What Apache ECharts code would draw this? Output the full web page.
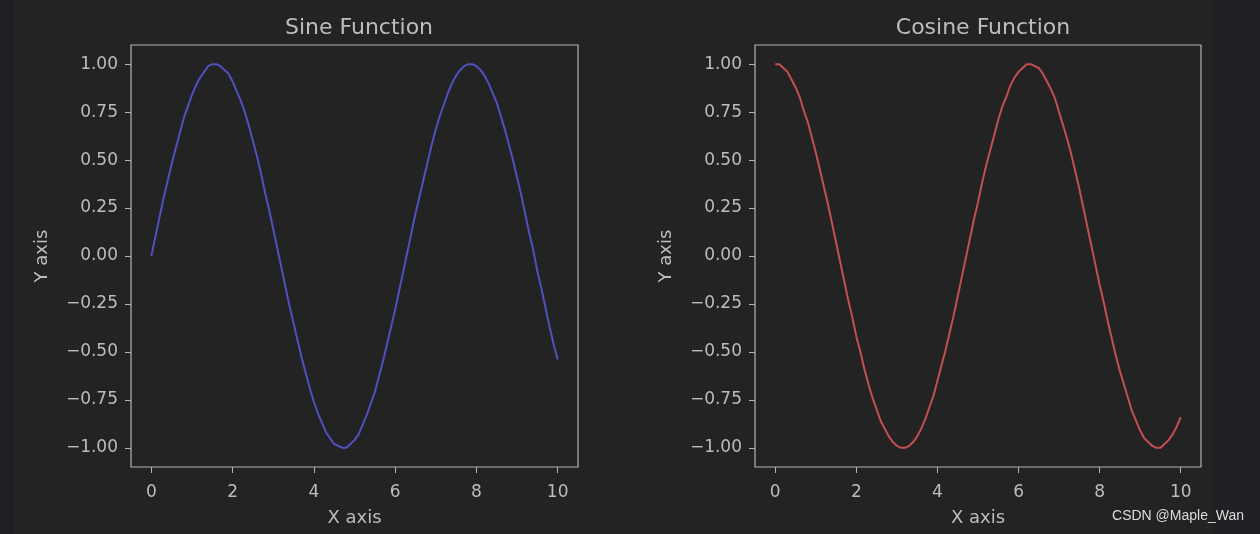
<!DOCTYPE html>
<html>
<head>
<meta charset="utf-8">
<script src="https://cdn.jsdelivr.net/npm/echarts@6/dist/echarts.min.js"></script>
<style>
html,body{margin:0;padding:0;background:#1f2023;}
#main{width:1260px;height:534px;}
</style>
</head>
<body>
<div id="main"></div>
<script>
// x samples, 0..10 in steps of 0.1
var x_vals = [0,0.1,0.2,0.3,0.4,0.5,0.6,0.7,0.8,0.9,1,1.1,1.2,1.3,1.4,1.5,1.6,1.7,1.8,1.9,
	2,2.1,2.2,2.3,2.4,2.5,2.6,2.7,2.8,2.9,3,3.1,3.2,3.3,3.4,3.5,3.6,3.7,3.8,3.9,
	4,4.1,4.2,4.3,4.4,4.5,4.6,4.7,4.8,4.9,5,5.1,5.2,5.3,5.4,5.5,5.6,5.7,5.8,5.9,
	6,6.1,6.2,6.3,6.4,6.5,6.6,6.7,6.8,6.9,7,7.1,7.2,7.3,7.4,7.5,7.6,7.7,7.8,7.9,
	8,8.1,8.2,8.3,8.4,8.5,8.6,8.7,8.8,8.9,9,9.1,9.2,9.3,9.4,9.5,9.6,9.7,9.8,9.9,10];
// values
var sine_vals = [0.00,0.10,0.20,0.30,0.39,0.48,0.56,0.64,0.72,0.78,0.84,0.89,0.93,0.96,0.99,1.00,1.00,0.99,0.97,0.95,
	0.91,0.86,0.81,0.75,0.68,0.60,0.52,0.43,0.33,0.24,0.14,0.04,-0.06,-0.16,-0.26,-0.35,-0.44,-0.53,-0.61,-0.69,
	-0.76,-0.82,-0.87,-0.92,-0.95,-0.98,-0.99,-1.00,-1.00,-0.98,-0.96,-0.93,-0.88,-0.83,-0.77,-0.71,-0.63,-0.55,-0.46,-0.37,
	-0.28,-0.18,-0.08,0.02,0.12,0.22,0.31,0.40,0.49,0.58,0.66,0.73,0.79,0.85,0.90,0.94,0.97,0.99,1.00,1.00,
	0.99,0.97,0.94,0.90,0.85,0.80,0.73,0.66,0.58,0.50,0.41,0.32,0.22,0.12,0.03,-0.08,-0.17,-0.27,-0.37,-0.46,-0.54];
// values
var cosine_vals = [1.00,1.00,0.98,0.96,0.92,0.88,0.83,0.76,0.70,0.62,0.54,0.45,0.36,0.27,0.17,0.07,-0.03,-0.13,-0.23,-0.32,
	-0.42,-0.50,-0.59,-0.67,-0.74,-0.80,-0.86,-0.90,-0.94,-0.97,-0.99,-1.00,-1.00,-0.99,-0.97,-0.94,-0.90,-0.85,-0.79,-0.73,
	-0.65,-0.57,-0.49,-0.40,-0.31,-0.21,-0.11,-0.01,0.09,0.19,0.28,0.38,0.47,0.55,0.63,0.71,0.78,0.83,0.89,0.93,
	0.96,0.98,1.00,1.00,0.99,0.98,0.95,0.91,0.87,0.82,0.75,0.68,0.61,0.53,0.44,0.35,0.25,0.15,0.05,-0.05,
	-0.15,-0.24,-0.34,-0.43,-0.52,-0.60,-0.67,-0.74,-0.81,-0.86,-0.91,-0.95,-0.97,-0.99,-1.00,-1.00,-0.98,-0.96,-0.93,-0.89,-0.84];
var x_ticks = [0,2,4,6,8,10];
var y_ticks = [-1,-0.75,-0.5,-0.25,0,0.25,0.5,0.75,1];

var txt_color = '#bdbdbd';
var spine_color = '#b4b4b4';
var font = 'DejaVu Sans';

function pairs(xs, ys){
	var out = [];
	for(var i=0;i<xs.length;i++){ out.push([xs[i], ys[i]]); }
	return out;
}

function fmt_y(v){
	var s = Math.abs(v).toFixed(2);
	return v < 0 ? '\u2212' + s : s;
}

function make_x(idx){
	return {
		gridIndex: idx, type: 'value', min: -0.5, max: 10.5,
		name: 'X axis', nameLocation: 'middle', nameGap: 42,
		nameTextStyle: {color: txt_color, fontSize: 18, fontFamily: font},
		axisLine: {show: false, onZero: false},
		axisTick: {show: true, inside: false, length: 6, lineStyle: {color: spine_color, width: 1}, customValues: x_ticks},
		axisLabel: {color: txt_color, fontSize: 17, fontFamily: font, margin: 17, customValues: x_ticks},
		splitLine: {show: false}
	};
}

function make_y(idx){
	return {
		gridIndex: idx, type: 'value', min: -1.1, max: 1.1,
		name: 'Y axis', nameLocation: 'middle', nameGap: 80, nameRotate: 90,
		nameTextStyle: {color: txt_color, fontSize: 18, fontFamily: font},
		axisLine: {show: false, onZero: false},
		axisTick: {show: true, inside: false, length: 6, lineStyle: {color: spine_color, width: 1}, customValues: y_ticks},
		axisLabel: {color: txt_color, fontSize: 17, fontFamily: font, margin: 13, customValues: y_ticks, formatter: fmt_y},
		splitLine: {show: false}
	};
}

var myChart = echarts.init(document.getElementById('main'));
myChart.setOption({
	backgroundColor: '#1f2023',
	animation: false,
	title: [
		{text: 'Sine Function', left: 354, top: 12, textAlign: 'center',
		 textStyle: {color: txt_color, fontSize: 22, fontWeight: 'normal', fontFamily: font}},
		{text: 'Cosine Function', left: 978, top: 12, textAlign: 'center',
		 textStyle: {color: txt_color, fontSize: 22, fontWeight: 'normal', fontFamily: font}}
	],
	graphic: [
		{type: 'rect', z: -10, silent: true, shape: {x: 14, y: 0, width: 1199, height: 534}, style: {fill: '#232323'}},
		{type: 'text', right: 16, top: 509, style: {text: 'CSDN @Maple_Wan', fill: '#dcdcdc', font: '14px "Liberation Sans", Arial, sans-serif'}}
	],
	grid: [
		{left: 131, top: 45, width: 447, height: 422, show: true, borderColor: spine_color, borderWidth: 1.2, backgroundColor: 'transparent'},
		{left: 755, top: 45, width: 446, height: 422, show: true, borderColor: spine_color, borderWidth: 1.2, backgroundColor: 'transparent'}
	],
	xAxis: [make_x(0), make_x(1)],
	yAxis: [make_y(0), make_y(1)],
	series: [
		{name: 'sin', type: 'line', xAxisIndex: 0, yAxisIndex: 0, data: pairs(x_vals, sine_vals),
		 smooth: false, showSymbol: false, lineStyle: {color: '#5050c2', width: 2, join: 'round'}},
		{name: 'cos', type: 'line', xAxisIndex: 1, yAxisIndex: 1, data: pairs(x_vals, cosine_vals),
		 smooth: false, showSymbol: false, lineStyle: {color: '#c44f4f', width: 2, join: 'round'}}
	]
});
</script>
</body>
</html>
